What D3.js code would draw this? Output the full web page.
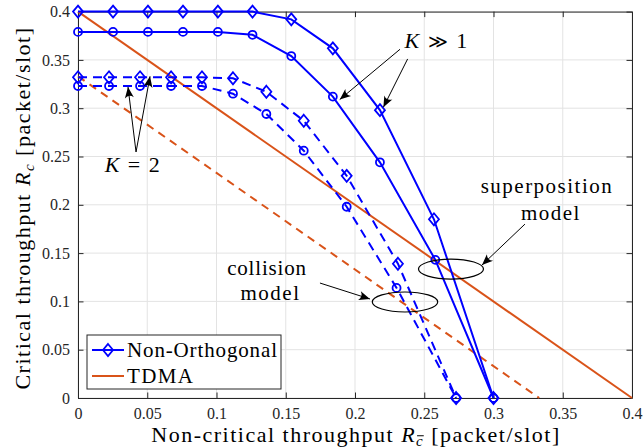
<!DOCTYPE html>
<html><head><meta charset="utf-8">
<script src="https://cdn.jsdelivr.net/npm/d3@7"></script>
</head><body style="margin:0;background:#fff">
<svg id="c" width="644" height="448" style="display:block">
<text id="xl" x="356" y="442" text-anchor="middle" font-family="Liberation Serif" font-size="22" fill="#000">Non-critical throughput <tspan font-style="italic">R</tspan><tspan font-style="italic" baseline-shift="-25%" font-size="15">c</tspan> [packet/slot]</text>
<text id="yl" transform="translate(30,208) rotate(-90)" text-anchor="middle" font-family="Liberation Serif" font-size="22" fill="#000">Critical throughput <tspan font-style="italic">R</tspan><tspan font-style="italic" baseline-shift="-25%" font-size="15">c</tspan> [packet/slot]</text>
</svg>
<script>
// ---- data ----
const xTicks = [0,0.05,0.1,0.15,0.2,0.25,0.3,0.35,0.4];
const yTicks = [0,0.05,0.1,0.15,0.2,0.25,0.3,0.35,0.4];
const xTickLabels = ["0","0.05","0.1","0.15","0.2","0.25","0.3","0.35","0.4"];
const yTickLabels = ["0","0.05","0.1","0.15","0.2","0.25","0.3","0.35","0.4"];
// Non-Orthogonal, K>>1, superposition model (diamonds, solid)
const kInfDiamX = [0,0.0253,0.0505,0.0758,0.101,0.126,0.154,0.184,0.218,0.257,0.3];
const kInfDiamY = [0.4,0.4,0.4,0.4,0.4,0.4,0.392,0.362,0.298,0.185,0];
// Non-Orthogonal, K>>1, collision model (circles, solid)
const kInfCircX = [0,0.0253,0.0505,0.0758,0.101,0.126,0.154,0.184,0.218,0.258,0.3];
const kInfCircY = [0.379,0.379,0.379,0.379,0.379,0.376,0.354,0.312,0.244,0.143,0];
// Non-Orthogonal, K=2, superposition (diamonds, dashed)
const k2DiamX = [0,0.0224,0.0448,0.0672,0.0895,0.1119,0.136,0.163,0.194,0.231,0.273];
const k2DiamY = [0.332,0.332,0.332,0.332,0.332,0.331,0.317,0.287,0.230,0.139,0];
// Non-Orthogonal, K=2, collision (circles, dashed)
const k2CircX = [0,0.0224,0.0448,0.0672,0.0895,0.1119,0.136,0.163,0.194,0.230,0.273];
const k2CircY = [0.323,0.323,0.323,0.323,0.323,0.315,0.294,0.256,0.198,0.114,0];
// TDMA
const tdmaSupX = [0,0.4], tdmaSupY = [0.4,0];
const tdmaColX = [0,0.333], tdmaColY = [0.333,0];
const legendLabels = ["Non-Orthogonal","TDMA"];

// ---- layout ----
const FONT="Liberation Serif";
const L=78, R=632, T=11.6, B=398;
const svg=d3.select("#c");
const x=d3.scaleLinear().domain([0,0.4]).range([L,R]);
const y=d3.scaleLinear().domain([0,0.4]).range([B,T]);
const BLUE="#0000ff", ORANGE="#D95319", AX="#262626";

function mk(parent,size){return parent.append("text").attr("font-family",FONT).attr("font-size",size).attr("fill","#000");}
function fit(sel,target){ // letter-spacing to match reference text width
  const n=sel.node(); const len=n.getComputedTextLength(); const chars=n.textContent.length;
  if(chars>1){const ls=Math.max(-1,Math.min(1.5,(target-len)/(chars-1))); sel.attr("letter-spacing",ls.toFixed(2));}
  return sel;
}

// grid
const g=svg.append("g");
g.selectAll(".gx").data(xTicks).enter().append("line")
 .attr("x1",d=>x(d)).attr("x2",d=>x(d)).attr("y1",T).attr("y2",B)
 .attr("stroke","#e3e3e3").attr("stroke-width",1);
g.selectAll(".gy").data(yTicks).enter().append("line")
 .attr("y1",d=>y(d)).attr("y2",d=>y(d)).attr("x1",L).attr("x2",R)
 .attr("stroke","#e3e3e3").attr("stroke-width",1);

// axes
const fmtX=(d,i)=>xTickLabels[i], fmtY=(d,i)=>yTickLabels[i];
function styleAxis(sel){sel.attr("font-family",FONT).attr("font-size",16);
 sel.selectAll("path").attr("stroke",AX).attr("stroke-width",1);
 sel.selectAll("line").attr("stroke",AX);
 sel.selectAll("text").attr("font-family",FONT).attr("font-size",16).attr("fill",AX);}
const ax=svg.append("g").attr("transform",`translate(0,${B})`)
 .call(d3.axisBottom(x).tickValues(xTicks).tickFormat(fmtX).tickSizeInner(-5.5).tickSizeOuter(0).tickPadding(10));
styleAxis(ax);
const ay=svg.append("g").attr("transform",`translate(${L},0)`)
 .call(d3.axisLeft(y).tickValues(yTicks).tickFormat(fmtY).tickSizeInner(-5.5).tickSizeOuter(0).tickPadding(8));
styleAxis(ay);
const at=svg.append("g").attr("transform",`translate(0,${T})`)
 .call(d3.axisTop(x).tickValues(xTicks).tickFormat("").tickSizeInner(-5.5).tickSizeOuter(0));
styleAxis(at);
const ar=svg.append("g").attr("transform",`translate(${R},0)`)
 .call(d3.axisRight(y).tickValues(yTicks).tickFormat("").tickSizeInner(-5.5).tickSizeOuter(0));
styleAxis(ar);

// clip
svg.append("clipPath").attr("id","cp").append("rect").attr("x",L-8).attr("y",T-8).attr("width",R-L+16).attr("height",B-T+16);
const plot=svg.append("g").attr("clip-path","url(#cp)");

const line=d3.line().x(d=>x(d[0])).y(d=>y(d[1]));
const diamondPath="M0,-6L5,0L0,6L-5,0Z";
function series(xs,ys,color,dash,marker){
  const pts=xs.map((v,i)=>[v,ys[i]]);
  plot.append("path").attr("d",line(pts)).attr("fill","none").attr("stroke",color)
    .attr("stroke-width",2).attr("stroke-dasharray",dash||null);
  if(marker==="diamond"){
    plot.selectAll(null).data(pts).enter().append("path")
     .attr("d",diamondPath)
     .attr("transform",d=>`translate(${x(d[0])},${y(d[1])})`)
     .attr("fill","none").attr("stroke",color).attr("stroke-width",1.8);
  } else if(marker==="circle"){
    plot.selectAll(null).data(pts).enter().append("circle")
     .attr("cx",d=>x(d[0])).attr("cy",d=>y(d[1])).attr("r",4)
     .attr("fill","none").attr("stroke",color).attr("stroke-width",1.8);
  }
}
series(tdmaSupX,tdmaSupY,ORANGE,null,null);
series(tdmaColX,tdmaColY,ORANGE,"8,6",null);
series(k2DiamX,k2DiamY,BLUE,"9,6","diamond");
series(k2CircX,k2CircY,BLUE,"9,6","circle");
series(kInfDiamX,kInfDiamY,BLUE,null,"diamond");
series(kInfCircX,kInfCircY,BLUE,null,"circle");

// annotations
const defs=svg.append("defs");
defs.append("marker").attr("id","ah").attr("viewBox","-12 -6 14 12").attr("refX",0).attr("refY",0)
 .attr("markerWidth",14).attr("markerHeight",12).attr("markerUnits","userSpaceOnUse").attr("orient","auto")
 .append("path").attr("d","M0,0 L-11,-4.5 Q-7,0 -11,4.5 Z").attr("fill","#000");
const ann=svg.append("g");
function arrow(x1,y1,x2,y2){ann.append("line").attr("x1",x(x1)).attr("y1",y(y1)).attr("x2",x(x2)).attr("y2",y(y2))
 .attr("stroke","#000").attr("stroke-width",1).attr("marker-end","url(#ah)");}
function ellipse(cx,cy,rx,ry){ann.append("ellipse").attr("cx",x(cx)).attr("cy",y(cy)).attr("rx",rx).attr("ry",ry)
 .attr("fill","none").attr("stroke","#000").attr("stroke-width",1.2);}
function txt(cx,cy,s,w){return fit(mk(ann,21).attr("x",x(cx)).attr("y",y(cy)).attr("text-anchor","middle").text(s),w);}
// K >> 1
const tk=mk(ann,22).attr("x",x(0.259)).attr("y",y(0.362)).attr("text-anchor","middle");
tk.append("tspan").attr("font-style","italic").text("K");
tk.append("tspan").text(" ");
tk.append("tspan").attr("font-family","DejaVu Serif").attr("font-size",19).text("≫");
tk.append("tspan").text(" 1");
fit(tk,65);
arrow(0.2325,0.361,0.189,0.309);
arrow(0.238,0.351,0.2205,0.301);
// K = 2
const t2=mk(ann,22).attr("x",x(0.0397)).attr("y",y(0.234)).attr("text-anchor","middle");
t2.append("tspan").attr("font-style","italic").text("K");t2.append("tspan").text(" = 2");
fit(t2,60);
arrow(0.0419,0.2547,0.0361,0.322);
arrow(0.0419,0.2547,0.052,0.333);
// superposition model
txt(0.3386,0.2122,"superposition",131);
txt(0.3415,0.184,"model",59);
arrow(0.3227,0.180,0.2917,0.1377);
ellipse(0.2693,0.1335,32.5,10);
// collision model
txt(0.1365,0.1273,"collision",79);
txt(0.139,0.1014,"model",59);
arrow(0.1747,0.119,0.2108,0.1025);
ellipse(0.2361,0.0994,32.7,10);

// legend
const lg=svg.append("g");
lg.append("rect").attr("x",87).attr("y",335).attr("width",194).attr("height",54).attr("fill","#fff").attr("stroke",AX).attr("stroke-width",1);
lg.append("line").attr("x1",92).attr("x2",124).attr("y1",350).attr("y2",350).attr("stroke",BLUE).attr("stroke-width",2);
lg.append("path").attr("d",diamondPath).attr("transform","translate(108,350)")
 .attr("fill","none").attr("stroke",BLUE).attr("stroke-width",1.8);
lg.append("line").attr("x1",92).attr("x2",124).attr("y1",376).attr("y2",376).attr("stroke",ORANGE).attr("stroke-width",2);
const legW=[150,66];
legendLabels.forEach((d,i)=>{fit(mk(lg,21).attr("x",127).attr("y",357+i*26).text(d),legW[i]);});

// axis labels (static in markup, spacing fitted here)
fit(d3.select("#xl"),439);
fit(d3.select("#yl"),373);
// overline over the subscript c of the x label (c-bar)
try{
  const n=d3.select("#xl").node();
  const idx="Non-critical throughput R".length;
  const r=n.getExtentOfChar(idx);
  svg.append("line").attr("x1",r.x+1).attr("x2",r.x+r.width-0.5).attr("y1",r.y+3).attr("y2",r.y+3)
    .attr("stroke","#000").attr("stroke-width",1);
}catch(e){}
</script></body></html>
